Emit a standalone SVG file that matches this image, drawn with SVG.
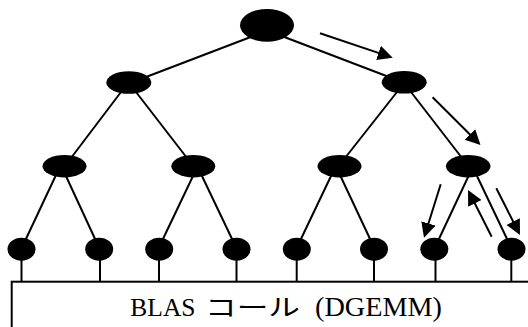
<svg xmlns="http://www.w3.org/2000/svg" width="528" height="327" viewBox="0 0 528 327">
<style>
.n{fill:#000}
.e{stroke:#000;stroke-width:2;fill:none}
.a{stroke:#000;stroke-width:2;fill:none;marker-end:url(#ah)}
.t{font-family:"Liberation Serif","Noto Sans CJK JP",serif;font-size:26.5px;fill:#000}
.b{font-family:"Liberation Serif",serif;font-size:25.5px;fill:#000}
.j{font-family:"Noto Sans CJK JP",sans-serif;font-size:23.5px;fill:#000}
</style>
<defs>
<marker id="ah" markerUnits="userSpaceOnUse" markerWidth="16" markerHeight="16" refX="10" refY="7.5" orient="auto" viewBox="0 0 16 16">
<path d="M0,0 L15,7.5 L0,15 z" fill="#000"/>
</marker>
</defs>
<rect width="528" height="327" fill="#fff"/>
<g id="connectors">
<line class="e" x1="252" y1="36.5" x2="146" y2="77"/>
<line class="e" x1="283" y1="36.5" x2="389" y2="77"/>
<line class="e" x1="121" y1="92" x2="71" y2="158"/>
<line class="e" x1="136" y1="92" x2="187" y2="158"/>
<line class="e" x1="397" y1="92" x2="345" y2="158"/>
<line class="e" x1="411" y1="92" x2="462" y2="158"/>
<line class="e" x1="56" y1="175" x2="25" y2="241"/>
<line class="e" x1="65.5" y1="175" x2="96" y2="241"/>
<line class="e" x1="193.5" y1="175" x2="162" y2="241"/>
<line class="e" x1="201.5" y1="175" x2="233" y2="241"/>
<line class="e" x1="331.5" y1="175" x2="300" y2="241"/>
<line class="e" x1="340" y1="175" x2="371" y2="241"/>
<line class="e" x1="469" y1="175" x2="438" y2="241"/>
<line class="e" x1="476.5" y1="175" x2="508" y2="241"/>
<line class="e" x1="21.5" y1="255" x2="21.5" y2="282"/>
<line class="e" x1="100" y1="255" x2="100" y2="282"/>
<line class="e" x1="159" y1="255" x2="159" y2="282"/>
<line class="e" x1="236.5" y1="255" x2="236.5" y2="282"/>
<line class="e" x1="296.7" y1="255" x2="296.7" y2="282"/>
<line class="e" x1="374" y1="255" x2="374" y2="282"/>
<line class="e" x1="435.5" y1="255" x2="435.5" y2="282"/>
<line class="e" x1="511.3" y1="255" x2="511.3" y2="282"/>
<line class="a" x1="320" y1="33.3" x2="388" y2="56.1"/>
<line class="a" x1="432.6" y1="97.3" x2="477" y2="141.5"/>
<line class="a" x1="440.7" y1="184.3" x2="425.5" y2="233"/>
<line class="a" x1="491.7" y1="236.7" x2="470.3" y2="194.5"/>
<line class="a" x1="496.3" y1="188.3" x2="517.7" y2="230.5"/>
</g>
<g id="root"><ellipse class="n" cx="267" cy="25.3" rx="27" ry="16.4"/></g>
<g id="n2a"><ellipse class="n" cx="128.8" cy="82.5" rx="22.5" ry="11.3"/></g>
<g id="n2b"><ellipse class="n" cx="404.2" cy="82.3" rx="22.5" ry="11.3"/></g>
<g id="n3a"><ellipse class="n" cx="64.5" cy="166.2" rx="22" ry="11.2"/></g>
<g id="n3b"><ellipse class="n" cx="193.3" cy="166.2" rx="22" ry="11.2"/></g>
<g id="n3c"><ellipse class="n" cx="339.5" cy="166.2" rx="22" ry="11.2"/></g>
<g id="n3d"><ellipse class="n" cx="468.2" cy="166.2" rx="22.3" ry="11.2"/></g>
<g id="l1"><ellipse class="n" cx="21.5" cy="249.2" rx="14" ry="11.5"/></g>
<g id="l2"><ellipse class="n" cx="99.2" cy="249.2" rx="14" ry="11.5"/></g>
<g id="l3"><ellipse class="n" cx="159.2" cy="249.2" rx="14" ry="11.5"/></g>
<g id="l4"><ellipse class="n" cx="236.5" cy="249.2" rx="14" ry="11.5"/></g>
<g id="l5"><ellipse class="n" cx="296.8" cy="249.2" rx="14" ry="11.5"/></g>
<g id="l6"><ellipse class="n" cx="374" cy="249.2" rx="14" ry="11.5"/></g>
<g id="l7"><ellipse class="n" cx="434.3" cy="249.2" rx="14" ry="11.5"/></g>
<g id="l8"><ellipse class="n" cx="511.5" cy="249.2" rx="14" ry="11.5"/></g>
<g id="blas">
<rect x="11.7" y="281.7" width="530" height="60" fill="none" stroke="#000" stroke-width="2"/>
<text class="b" x="130.3" y="316">BLAS</text>
<text class="j" x="205" y="315.5" textLength="95" lengthAdjust="spacingAndGlyphs">コール</text>
<text class="t" x="315" y="316" textLength="127" lengthAdjust="spacingAndGlyphs">(DGEMM)</text>
</g>
</svg>
